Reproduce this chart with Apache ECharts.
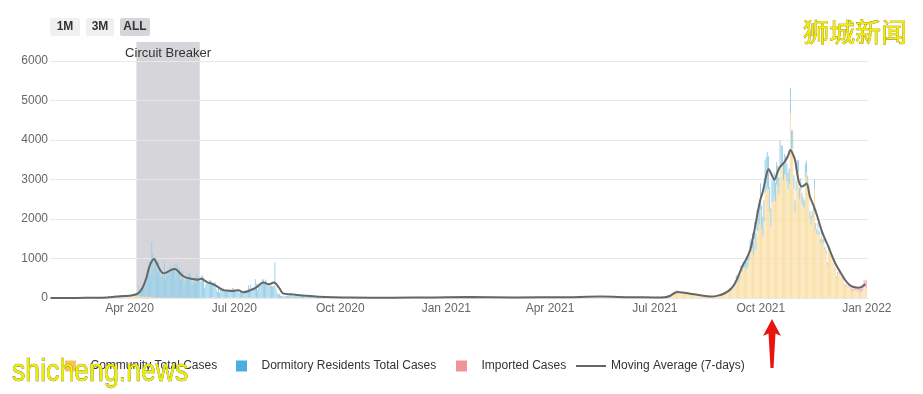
<!DOCTYPE html>
<html>
<head>
<meta charset="utf-8">
<script src="https://cdn.jsdelivr.net/npm/echarts/dist/echarts.min.js"></script>
<style>
html,body{margin:0;padding:0;background:#fff;}
#chart{width:923px;height:394px;}
</style>
</head>
<body>
<div id="chart"></div>
<script>
// ---------------- DATA ----------------
const seriesNames = ['Community Total Cases', 'Dormitory Residents Total Cases', 'Imported Cases', 'Moving Average (7-days)'];

// Period A: daily values from 2020-03-01 to 2020-09-30
const periodAStart = '2020-03-01';
const communityA = [
  2,2,1,1,5,9,5,7,6,7,8,5,7,6,7,6,6,14,8,10,10,9,14,16,18,22,22,36,23,21,24,
  20,25,35,45,50,40,40,50,45,40,40,30,45,30,25,40,25,30,30,30,20,30,20,15,20,15,20,15,15,10,
  10,8,12,10,8,10,12,10,8,6,5,10,8,6,5,4,5,3,4,5,3,4,5,4,3,4,5,4,3,3,4,
  4,5,6,8,7,5,6,4,5,7,8,6,5,6,4,5,7,6,8,9,10,7,6,8,9,7,8,10,9,8,
  10,8,6,7,8,5,6,7,5,8,9,10,12,8,7,6,5,8,9,7,6,5,8,7,6,5,4,6,5,4,5,
  3,2,4,3,5,2,3,4,2,3,2,1,3,2,4,2,3,1,2,3,2,1,2,3,1,2,3,2,1,2,1,
  1,0,1,2,0,1,0,1,0,2,1,0,1,0,1,2,0,1,0,1,0,0,1,0,1,0,1,0,0,1
];
const dormA = [
  0,0,0,0,0,0,0,0,0,0,0,0,0,0,0,0,0,0,0,0,0,0,0,0,0,0,0,2,3,4,8,
  50,21,27,28,67,25,63,90,240,157,150,202,341,303,421,688,597,911,566,1396,1091,986,1017,882,598,916,779,513,675,518,
  922,439,645,563,624,778,729,758,745,870,481,874,667,787,460,678,677,302,447,565,445,610,637,544,341,379,528,369,608,503,514,
  404,538,563,509,252,342,400,382,445,444,412,340,342,401,209,144,237,134,182,205,249,209,180,180,180,158,202,198,247,234,
  202,173,156,178,114,175,145,168,150,178,178,129,303,234,336,236,238,245,468,347,199,286,343,379,471,458,352,459,349,354,354,
  300,308,286,296,900,236,126,95,93,53,51,37,42,45,41,49,54,83,87,64,46,36,44,55,58,71,61,69,52,35,27,
  37,32,28,31,26,27,22,28,38,45,27,49,36,38,25,20,38,18,22,12,19,13,11,11,9,12,9,9,13,16
];
const importedA = [
  0,0,1,1,2,4,3,5,4,3,4,4,6,6,7,11,17,33,24,30,37,14,40,33,55,30,27,32,16,10,15,
  4,3,3,2,3,1,3,2,2,1,1,1,0,1,1,0,1,1,0,0,0,0,0,0,0,0,0,0,0,0,
  0,0,0,1,0,0,0,0,0,0,0,0,0,0,1,0,0,0,0,0,0,0,0,0,0,0,0,0,0,0,0,
  0,1,0,0,2,0,1,0,1,0,2,1,0,0,1,2,3,2,1,4,3,2,5,3,2,4,3,5,6,4,
  3,4,2,5,4,3,6,4,3,5,4,6,7,5,4,6,5,3,4,5,6,4,3,5,4,6,3,4,5,4,3,
  4,3,5,2,3,4,3,2,5,4,3,4,2,3,5,4,3,2,4,3,2,3,4,2,3,4,3,2,4,3,2,
  2,3,1,2,4,2,3,1,2,3,2,1,3,2,4,3,2,1,3,2,1,2,3,1,2,3,2,1,2,3
];

// Period B: daily values from 2021-07-01 to 2022-01-01
const periodBStart = '2021-07-01';
const communityB = [
  11,5,9,8,7,5,4,6,6,6,9,14,49,38,51,84,64,177,186,192,180,165,127,124,129,130,132,127,114,117,105,
  104,92,80,87,91,90,77,64,70,59,57,45,48,47,47,40,36,31,24,23,27,31,35,42,50,61,81,98,113,119,131,
  156,156,185,216,206,188,281,280,379,478,459,412,490,697,655,752,766,818,737,800,919,1149,1174,1258,1084,1478,1217,1704,1694,1865,
  2247,1747,1566,1945,2672,2719,2791,2761,2199,1800,2415,2447,2578,2442,2887,2837,2629,3381,3332,3370,2980,3126,3104,2953,2762,2888,4663,3735,3788,2780,2181,
  2710,3134,3187,2509,2722,2393,2325,2258,3066,3172,2806,2710,2028,1860,2019,2187,2770,1738,1611,1779,1590,1378,1616,1399,1401,1217,1120,838,1225,1229,
  1138,1041,950,850,707,514,604,654,611,558,515,460,317,291,364,258,301,250,196,172,227,193,192,179,155,203,140,164,205,274,275,
  245
];
const dormB = [
  0,0,1,0,0,0,0,0,0,0,0,0,1,0,0,0,0,2,1,0,1,2,0,1,0,2,1,0,1,0,2,
  2,1,0,1,2,1,0,1,2,0,1,1,0,2,1,0,1,0,1,2,3,1,2,4,5,8,10,12,8,15,20,
  20,25,30,35,30,40,45,60,70,80,90,100,110,130,140,150,160,180,170,200,250,300,320,380,350,450,420,520,560,600,
  650,600,480,520,800,850,900,820,600,450,550,520,600,480,550,500,420,600,520,480,450,500,480,420,400,380,650,500,450,320,280,
  250,350,300,280,300,260,220,200,320,300,280,180,160,200,170,200,220,150,130,110,100,110,120,90,90,70,70,50,60,60,
  50,45,40,35,30,25,30,28,25,22,20,18,15,14,16,12,14,10,9,8,8,7,8,6,5,7,5,6,5,6,5,
  5
];
const importedB = [
  8,5,8,6,5,4,5,5,6,8,6,5,6,4,5,4,3,3,2,3,4,3,3,3,4,3,3,4,5,4,3,
  4,5,6,3,5,6,4,5,3,5,4,3,5,6,4,5,3,4,5,3,4,6,5,4,5,6,4,5,4,6,5,
  5,6,4,8,5,7,6,9,8,10,6,8,7,10,12,8,9,11,10,12,9,8,10,12,9,11,10,12,14,13,
  12,9,11,10,14,8,12,9,10,13,11,9,12,10,8,11,9,13,10,12,9,11,14,10,12,9,11,13,10,12,9,
  10,12,9,11,13,10,8,12,11,9,14,10,12,9,11,13,10,12,9,11,10,12,14,11,9,13,10,12,15,11,
  12,14,10,15,13,11,16,18,14,20,15,22,18,25,20,30,35,40,45,50,55,60,70,65,80,90,85,110,140,170,180,
  190
];

// 7-day moving average
const maDates = [
  '2020-01-23','2020-02-15','2020-03-01','2020-03-12','2020-03-20','2020-03-27','2020-04-02','2020-04-06',
  '2020-04-09','2020-04-12','2020-04-15','2020-04-18','2020-04-20','2020-04-22','2020-04-24','2020-04-27',
  '2020-04-30','2020-05-03','2020-05-06','2020-05-10','2020-05-13','2020-05-16','2020-05-20','2020-05-26',
  '2020-05-30','2020-06-02','2020-06-05','2020-06-08','2020-06-12','2020-06-17','2020-06-21','2020-06-26',
  '2020-06-30','2020-07-04','2020-07-09','2020-07-15','2020-07-20','2020-07-26','2020-07-31','2020-08-04',
  '2020-08-09','2020-08-12','2020-08-19','2020-08-31','2020-09-12','2020-09-25','2020-10-10','2020-11-15',
  '2020-12-20','2021-01-20','2021-03-01','2021-04-15','2021-05-15','2021-06-10','2021-07-01','2021-07-10',
  '2021-07-14','2021-07-18','2021-07-21','2021-07-25','2021-08-01','2021-08-06','2021-08-11','2021-08-16',
  '2021-08-20','2021-08-25','2021-08-31','2021-09-05','2021-09-09','2021-09-12','2021-09-16','2021-09-19',
  '2021-09-22','2021-09-25','2021-09-29','2021-10-01','2021-10-03','2021-10-06','2021-10-08','2021-10-11',
  '2021-10-13','2021-10-16','2021-10-18','2021-10-22','2021-10-25','2021-10-27','2021-10-29','2021-10-31',
  '2021-11-03','2021-11-06','2021-11-08','2021-11-10','2021-11-13','2021-11-16','2021-11-19','2021-11-23',
  '2021-11-26','2021-11-29','2021-12-02','2021-12-05','2021-12-08','2021-12-11','2021-12-13','2021-12-16',
  '2021-12-19','2021-12-22','2021-12-25','2021-12-27','2021-12-29','2021-12-31'
];
const maValues = [
  0,3,4,12,35,50,65,90,
  140,260,480,800,930,985,900,720,
  625,650,700,735,680,580,515,480,
  460,490,440,390,355,270,200,185,
  180,195,145,200,270,395,345,390,
  245,118,93,60,33,18,10,8,
  15,25,15,22,35,20,15,20,
  50,120,150,140,110,88,62,42,
  35,60,120,220,380,580,850,1000,
  1215,1600,2230,2500,2690,3100,3260,3100,
  2990,3200,3320,3450,3600,3750,3650,3500,
  2990,2820,2850,2900,2560,2350,2100,1720,
  1500,1300,1080,880,720,580,480,370,
  300,270,260,270,300,355
];

// Circuit Breaker period
const circuitBreakerLabel = 'Circuit Breaker';
const circuitBreakerRange = ['2020-04-07', '2020-06-01'];

// Axis
const xRange = ['2020-01-23', '2022-01-02'];
const tickDates = ['2020-04-01','2020-07-01','2020-10-01','2021-01-01','2021-04-01','2021-07-01','2021-10-01','2022-01-01'];
const tickLabels = ['Apr 2020','Jul 2020','Oct 2020','Jan 2021','Apr 2021','Jul 2021','Oct 2021','Jan 2022'];
const yTicks = [0, 1000, 2000, 3000, 4000, 5000, 6000];

// ---------------- BUILD ----------------
const DAY = 86400000;
const ts = d => Date.parse(d + 'T00:00:00Z');
function daily(start, values) {
  const t0 = ts(start);
  return values.map((v, i) => [t0 + i * DAY, v]);
}
const communityData = daily(periodAStart, communityA).concat(daily(periodBStart, communityB));
const dormData = daily(periodAStart, dormA).concat(daily(periodBStart, dormB));
const importedData = daily(periodAStart, importedA).concat(daily(periodBStart, importedB));
const maData = maDates.map((d, i) => [ts(d), maValues[i]]);
const tickTs = tickDates.map(ts);
const xMin = ts(xRange[0]), xMax = ts(xRange[1]);

const FONT = '"Liberation Sans", Arial, Helvetica, sans-serif';
const chart = echarts.init(document.getElementById('chart'), null, {renderer: 'canvas'});

const barBase = {
  type: 'bar', stack: 'cases', barWidth: 1, z: 4, xAxisIndex: 0, yAxisIndex: 0,
  emphasis: {disabled: true}, animation: false
};
const squareIcon = 'path://M0,0H10V10H0Z';
const lineIcon = 'path://M0,0H30V2H0Z';
function legendItem(left, name, icon, color) {
  return {
    left: left, top: 360, itemWidth: 30, itemHeight: 11, padding: 0,
    selectedMode: false,
    textStyle: {color: '#333333', fontSize: 12, fontFamily: FONT, padding: [0, 0, 0, 0]},
    data: [{name: name, icon: icon, itemStyle: {color: color, opacity: 1}}]
  };
}

chart.setOption({
  animation: false,
  textStyle: {fontFamily: FONT},
  grid: [
    {left: 50, right: 55, top: 61, bottom: 96},
    {left: 50, right: 55, top: 42, bottom: 96}
  ],
  xAxis: [
    {
      type: 'time', gridIndex: 0, min: xMin, max: xMax, position: 'bottom',
      axisLine: {show: false}, axisTick: {show: false},
      splitLine: {show: false}, axisLabel: {show: false}
    },
    {
      type: 'value', gridIndex: 0, min: xMin, max: xMax, position: 'bottom',
      axisLine: {show: true, lineStyle: {color: '#e3e3e3'}},
      axisTick: {show: false},
      splitLine: {show: false},
      axisLabel: {
        customValues: tickTs,
        color: '#666666', fontSize: 12, margin: 5, fontFamily: FONT,
        formatter: function (v) {
          const i = tickTs.indexOf(v);
          return i >= 0 ? tickLabels[i] : '';
        }
      }
    },
    {type: 'value', gridIndex: 1, show: false, min: xMin, max: xMax}
  ],
  yAxis: [
    {
      type: 'value', gridIndex: 0, min: yTicks[0], max: yTicks[yTicks.length - 1], interval: 1000,
      z: 3,
      axisLine: {show: false}, axisTick: {show: false},
      splitLine: {lineStyle: {color: '#e8e8e8', width: 1}},
      axisLabel: {color: '#666666', fontSize: 12, margin: 2, fontFamily: FONT, formatter: v => String(v)}
    },
    {type: 'value', gridIndex: 1, show: false, min: 0, max: 1}
  ],
  legend: [
    legendItem(65, seriesNames[0], squareIcon, '#f7c35f'),
    legendItem(236, seriesNames[1], squareIcon, '#4aaee0'),
    legendItem(456, seriesNames[2], squareIcon, '#f0949a'),
    legendItem(576, seriesNames[3], lineIcon, '#666666')
  ],
  series: [
    {
      name: 'cbBand', type: 'line', xAxisIndex: 2, yAxisIndex: 1, data: [], z: 0,
      silent: true,
      markArea: {
        silent: true, z: 0,
        itemStyle: {color: '#d6d6da'},
        label: {show: true, position: 'insideTop', distance: 5, color: '#333333', fontSize: 13, fontFamily: FONT},
        data: [[{name: circuitBreakerLabel, xAxis: ts(circuitBreakerRange[0])}, {xAxis: ts(circuitBreakerRange[1])}]]
      }
    },
    Object.assign({}, barBase, {name: seriesNames[0], data: communityData, itemStyle: {color: '#fadfa6'}}),
    Object.assign({}, barBase, {name: seriesNames[1], data: dormData, itemStyle: {color: '#98d0e9'}}),
    Object.assign({}, barBase, {name: seriesNames[2], data: importedData, itemStyle: {color: '#f3aeb2'}}),
    {
      name: seriesNames[3], type: 'line', data: maData, z: 5, xAxisIndex: 0, yAxisIndex: 0,
      smooth: 0.35, symbol: 'none', showSymbol: false,
      lineStyle: {color: '#666666', width: 2},
      itemStyle: {color: '#666666'},
      emphasis: {disabled: true}
    }
  ],
  graphic: [
    {type: 'rect', shape: {x: 50, y: 18, width: 30, height: 18, r: 2}, style: {fill: '#f0f0f0'}},
    {type: 'text', x: 65, y: 27, style: {text: '1M', font: 'bold 12px ' + FONT, fill: '#333333', align: 'center', verticalAlign: 'middle'}},
    {type: 'rect', shape: {x: 86, y: 18, width: 28, height: 18, r: 2}, style: {fill: '#f0f0f0'}},
    {type: 'text', x: 100, y: 27, style: {text: '3M', font: 'bold 12px ' + FONT, fill: '#333333', align: 'center', verticalAlign: 'middle'}},
    {type: 'rect', shape: {x: 120, y: 18, width: 30, height: 18, r: 2}, style: {fill: '#d6d6da'}},
    {type: 'text', x: 135, y: 27, style: {text: 'ALL', font: 'bold 12px ' + FONT, fill: '#333333', align: 'center', verticalAlign: 'middle'}},
    {type: 'text', x: 803, y: 32, z: 100, style: {text: '狮城新闻', font: '26px "Noto Sans CJK SC"', fill: '#f6ec00', stroke: '#7a6e00', lineWidth: 0.6, verticalAlign: 'middle', shadowColor: 'rgba(60,50,0,0.6)', shadowOffsetX: 1, shadowOffsetY: 1, shadowBlur: 1}},
    {type: 'text', x: 12, y: 372, z: 100, scaleX: 0.86, style: {text: 'shicheng.news', font: '31px ' + FONT, fill: '#eeee00', stroke: '#5a5a20', lineWidth: 0.6, verticalAlign: 'middle', shadowColor: 'rgba(40,40,0,0.55)', shadowOffsetX: 1, shadowOffsetY: 1, shadowBlur: 1}},
    {type: 'polygon', z: 100, shape: {points: [[772, 319], [781, 336], [775.5, 333.5], [773.5, 368], [770.5, 368], [768.5, 333.5], [763, 336]]}, style: {fill: '#e8150e'}}
  ]
});
</script>
</body>
</html>
